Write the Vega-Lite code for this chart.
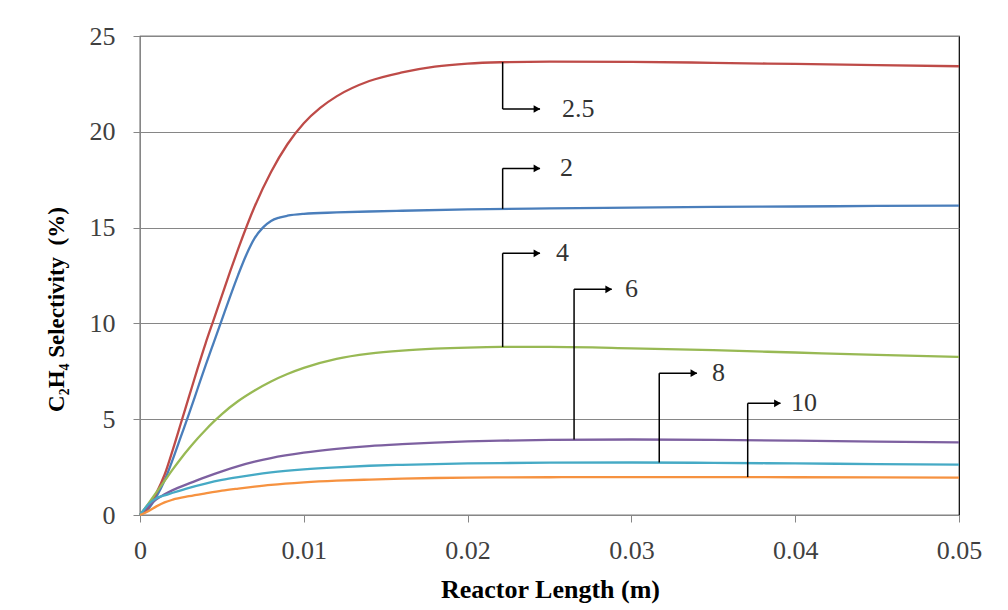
{
  "$schema": "https://vega.github.io/schema/vega-lite/v6.json",
  "width": 819,
  "height": 479,
  "autosize": "none",
  "padding": {"left": 140, "top": 36, "right": 49, "bottom": 95},
  "background": "white",
  "config": {"view": {"stroke": "#000", "strokeWidth": 1.2}, "font": "Times New Roman, Liberation Serif, serif"},
  "datasets": {
    "curves": [
      {"series":"2","x":0,"y":0},{"series":"2","x":0.0005,"y":0.3},{"series":"2","x":0.001,"y":0.95},{"series":"2","x":0.0015,"y":1.8},{"series":"2","x":0.002,"y":2.9},{"series":"2","x":0.0025,"y":4.1},{"series":"2","x":0.003,"y":5.3},{"series":"2","x":0.0035,"y":6.55},{"series":"2","x":0.004,"y":7.8},{"series":"2","x":0.0045,"y":9.0},{"series":"2","x":0.005,"y":10.2},{"series":"2","x":0.0055,"y":11.4},{"series":"2","x":0.006,"y":12.55},{"series":"2","x":0.0065,"y":13.6},{"series":"2","x":0.007,"y":14.45},{"series":"2","x":0.0075,"y":15.0},{"series":"2","x":0.008,"y":15.35},{"series":"2","x":0.0085,"y":15.52},{"series":"2","x":0.009,"y":15.62},{"series":"2","x":0.01,"y":15.72},{"series":"2","x":0.012,"y":15.79},{"series":"2","x":0.014,"y":15.84},{"series":"2","x":0.016,"y":15.88},{"series":"2","x":0.02,"y":15.95},{"series":"2","x":0.025,"y":16.0},{"series":"2","x":0.03,"y":16.04},{"series":"2","x":0.035,"y":16.08},{"series":"2","x":0.04,"y":16.1},{"series":"2","x":0.045,"y":16.13},{"series":"2","x":0.05,"y":16.15},
      {"series":"2.5","x":0,"y":0},{"series":"2.5","x":0.0005,"y":0.4},{"series":"2.5","x":0.001,"y":1.15},{"series":"2.5","x":0.0015,"y":2.1},{"series":"2.5","x":0.002,"y":3.4},{"series":"2.5","x":0.0025,"y":4.8},{"series":"2.5","x":0.003,"y":6.2},{"series":"2.5","x":0.0035,"y":7.6},{"series":"2.5","x":0.004,"y":8.95},{"series":"2.5","x":0.0045,"y":10.2},{"series":"2.5","x":0.005,"y":11.45},{"series":"2.5","x":0.0055,"y":12.7},{"series":"2.5","x":0.006,"y":13.9},{"series":"2.5","x":0.007,"y":16.1},{"series":"2.5","x":0.008,"y":17.9},{"series":"2.5","x":0.009,"y":19.35},{"series":"2.5","x":0.01,"y":20.45},{"series":"2.5","x":0.011,"y":21.25},{"series":"2.5","x":0.012,"y":21.85},{"series":"2.5","x":0.014,"y":22.65},{"series":"2.5","x":0.016,"y":23.1},{"series":"2.5","x":0.018,"y":23.4},{"series":"2.5","x":0.02,"y":23.56},{"series":"2.5","x":0.022,"y":23.63},{"series":"2.5","x":0.025,"y":23.66},{"series":"2.5","x":0.03,"y":23.65},{"series":"2.5","x":0.035,"y":23.6},{"series":"2.5","x":0.04,"y":23.54},{"series":"2.5","x":0.045,"y":23.48},{"series":"2.5","x":0.05,"y":23.42},
      {"series":"4","x":0,"y":0},{"series":"4","x":0.0005,"y":0.58},{"series":"4","x":0.001,"y":1.18},{"series":"4","x":0.0015,"y":1.78},{"series":"4","x":0.002,"y":2.38},{"series":"4","x":0.0025,"y":2.95},{"series":"4","x":0.003,"y":3.48},{"series":"4","x":0.0035,"y":3.98},{"series":"4","x":0.004,"y":4.44},{"series":"4","x":0.0045,"y":4.87},{"series":"4","x":0.005,"y":5.27},{"series":"4","x":0.006,"y":5.95},{"series":"4","x":0.007,"y":6.5},{"series":"4","x":0.008,"y":6.97},{"series":"4","x":0.009,"y":7.36},{"series":"4","x":0.01,"y":7.68},{"series":"4","x":0.012,"y":8.15},{"series":"4","x":0.014,"y":8.42},{"series":"4","x":0.016,"y":8.58},{"series":"4","x":0.018,"y":8.68},{"series":"4","x":0.02,"y":8.74},{"series":"4","x":0.022,"y":8.77},{"series":"4","x":0.025,"y":8.77},{"series":"4","x":0.03,"y":8.7},{"series":"4","x":0.035,"y":8.6},{"series":"4","x":0.04,"y":8.48},{"series":"4","x":0.045,"y":8.36},{"series":"4","x":0.05,"y":8.25},
      {"series":"6","x":0,"y":0},{"series":"6","x":0.0005,"y":0.45},{"series":"6","x":0.001,"y":0.82},{"series":"6","x":0.0015,"y":1.08},{"series":"6","x":0.002,"y":1.3},{"series":"6","x":0.003,"y":1.65},{"series":"6","x":0.004,"y":1.98},{"series":"6","x":0.005,"y":2.28},{"series":"6","x":0.006,"y":2.55},{"series":"6","x":0.007,"y":2.78},{"series":"6","x":0.008,"y":2.97},{"series":"6","x":0.01,"y":3.25},{"series":"6","x":0.012,"y":3.45},{"series":"6","x":0.014,"y":3.6},{"series":"6","x":0.016,"y":3.7},{"series":"6","x":0.018,"y":3.78},{"series":"6","x":0.02,"y":3.84},{"series":"6","x":0.022,"y":3.88},{"series":"6","x":0.025,"y":3.92},{"series":"6","x":0.03,"y":3.94},{"series":"6","x":0.035,"y":3.92},{"series":"6","x":0.04,"y":3.88},{"series":"6","x":0.045,"y":3.83},{"series":"6","x":0.05,"y":3.79},
      {"series":"8","x":0,"y":0},{"series":"8","x":0.0005,"y":0.55},{"series":"8","x":0.001,"y":0.88},{"series":"8","x":0.0015,"y":1.02},{"series":"8","x":0.002,"y":1.16},{"series":"8","x":0.003,"y":1.42},{"series":"8","x":0.004,"y":1.64},{"series":"8","x":0.005,"y":1.83},{"series":"8","x":0.006,"y":1.98},{"series":"8","x":0.007,"y":2.11},{"series":"8","x":0.008,"y":2.22},{"series":"8","x":0.01,"y":2.38},{"series":"8","x":0.012,"y":2.49},{"series":"8","x":0.014,"y":2.57},{"series":"8","x":0.016,"y":2.62},{"series":"8","x":0.018,"y":2.66},{"series":"8","x":0.02,"y":2.69},{"series":"8","x":0.022,"y":2.71},{"series":"8","x":0.025,"y":2.73},{"series":"8","x":0.03,"y":2.74},{"series":"8","x":0.035,"y":2.72},{"series":"8","x":0.04,"y":2.69},{"series":"8","x":0.045,"y":2.66},{"series":"8","x":0.05,"y":2.63},
      {"series":"10","x":0,"y":0},{"series":"10","x":0.0005,"y":0.2},{"series":"10","x":0.001,"y":0.45},{"series":"10","x":0.0015,"y":0.66},{"series":"10","x":0.002,"y":0.8},{"series":"10","x":0.003,"y":0.98},{"series":"10","x":0.004,"y":1.13},{"series":"10","x":0.005,"y":1.27},{"series":"10","x":0.006,"y":1.38},{"series":"10","x":0.007,"y":1.48},{"series":"10","x":0.008,"y":1.57},{"series":"10","x":0.01,"y":1.7},{"series":"10","x":0.012,"y":1.79},{"series":"10","x":0.014,"y":1.85},{"series":"10","x":0.016,"y":1.9},{"series":"10","x":0.018,"y":1.93},{"series":"10","x":0.02,"y":1.95},{"series":"10","x":0.022,"y":1.96},{"series":"10","x":0.025,"y":1.97},{"series":"10","x":0.03,"y":1.98},{"series":"10","x":0.035,"y":1.98},{"series":"10","x":0.04,"y":1.97},{"series":"10","x":0.045,"y":1.96},{"series":"10","x":0.05,"y":1.95}
    ],
    "notes": [
      {"label":"2.5","xv":0.02214,"yc":23.64,"ya":21.19,"xt":0.02442,"xl":0.02576},
      {"label":"2","xv":0.02214,"yc":15.98,"ya":18.09,"xt":0.02442,"xl":0.02564},
      {"label":"4","xv":0.02214,"yc":8.77,"ya":13.66,"xt":0.02442,"xl":0.0254},
      {"label":"6","xv":0.0265,"yc":3.94,"ya":11.78,"xt":0.0288,"xl":0.02961},
      {"label":"8","xv":0.0317,"yc":2.74,"ya":7.4,"xt":0.034,"xl":0.03492},
      {"label":"10","xv":0.0371,"yc":1.98,"ya":5.83,"xt":0.0391,"xl":0.03974}
    ]
  },
  "layer": [
    {
      "data": {"name": "curves"},
      "mark": {"type": "line", "strokeWidth": 2.3, "interpolate": "monotone"},
      "encoding": {
        "x": {
          "field": "x", "type": "quantitative",
          "scale": {"domain": [0, 0.05], "nice": false},
          "axis": {
            "title": "Reactor Length (m)",
            "values": [0, 0.01, 0.02, 0.03, 0.04, 0.05],
            "format": "~g",
            "grid": false,
            "domainColor": "#868686",
            "tickColor": "#868686",
            "tickSize": 7,
            "labelFont": "Times New Roman, Liberation Serif, serif",
            "labelFontSize": 26,
            "labelColor": "#404040",
            "labelBaseline": "alphabetic",
            "labelPadding": 36,
            "labelFlush": false,
            "labelOverlap": false,
            "titleFont": "Times New Roman, Liberation Serif, serif",
            "titleFontSize": 26,
            "titleFontWeight": "bold",
            "titleColor": "#000",
            "titleBaseline": "alphabetic",
            "titleY": 82,
            "titleX": 410,
            "titleAlign": "center"
          }
        },
        "y": {
          "field": "y", "type": "quantitative",
          "scale": {"domain": [0, 25], "nice": false},
          "axis": {
            "title": "C₂H₄ Selectivity\u00a0 (%)",
            "values": [0, 5, 10, 15, 20, 25],
            "grid": true,
            "gridColor": "#868686",
            "gridWidth": 1,
            "domainColor": "#868686",
            "tickColor": "#868686",
            "tickSize": 7,
            "labelFont": "Times New Roman, Liberation Serif, serif",
            "labelFontSize": 26,
            "labelColor": "#404040",
            "labelPadding": 18,
            "labelOverlap": false,
            "titleFont": "Times New Roman, Liberation Serif, serif",
            "titleFontSize": 23,
            "titleFontWeight": "bold",
            "titleColor": "#000",
            "titleAngle": 270,
            "titleBaseline": "alphabetic",
            "titleAlign": "center",
            "titleX": -77,
            "titleY": 273
          }
        },
        "color": {
          "field": "series", "type": "nominal",
          "scale": {"domain": ["2", "2.5", "4", "6", "8", "10"], "range": ["#4A7EBB", "#BE4B48", "#98B954", "#7D60A0", "#46AAC5", "#F69240"]},
          "legend": null
        }
      }
    },
    {
      "data": {"name": "notes"},
      "mark": {"type": "rule", "color": "#000", "strokeWidth": 1.5},
      "encoding": {
        "x": {"field": "xv", "type": "quantitative", "scale": {"domain": [0, 0.05], "nice": false}},
        "y": {"field": "yc", "type": "quantitative", "scale": {"domain": [0, 25], "nice": false}},
        "y2": {"field": "ya"}
      }
    },
    {
      "data": {"name": "notes"},
      "mark": {"type": "rule", "color": "#000", "strokeWidth": 1.5},
      "encoding": {
        "x": {"field": "xv", "type": "quantitative", "scale": {"domain": [0, 0.05], "nice": false}},
        "x2": {"field": "xt"},
        "y": {"field": "ya", "type": "quantitative", "scale": {"domain": [0, 25], "nice": false}}
      }
    },
    {
      "data": {"name": "notes"},
      "mark": {"type": "point", "shape": "triangle-right", "filled": true, "color": "#000", "opacity": 1, "size": 60, "xOffset": -3},
      "encoding": {
        "x": {"field": "xt", "type": "quantitative", "scale": {"domain": [0, 0.05], "nice": false}},
        "y": {"field": "ya", "type": "quantitative", "scale": {"domain": [0, 25], "nice": false}}
      }
    },
    {
      "data": {"name": "notes"},
      "mark": {"type": "text", "align": "left", "baseline": "middle", "font": "Times New Roman, Liberation Serif, serif", "fontSize": 26, "color": "#333"},
      "encoding": {
        "x": {"field": "xl", "type": "quantitative", "scale": {"domain": [0, 0.05], "nice": false}},
        "y": {"field": "ya", "type": "quantitative", "scale": {"domain": [0, 25], "nice": false}},
        "text": {"field": "label"}
      }
    }
  ]
}
